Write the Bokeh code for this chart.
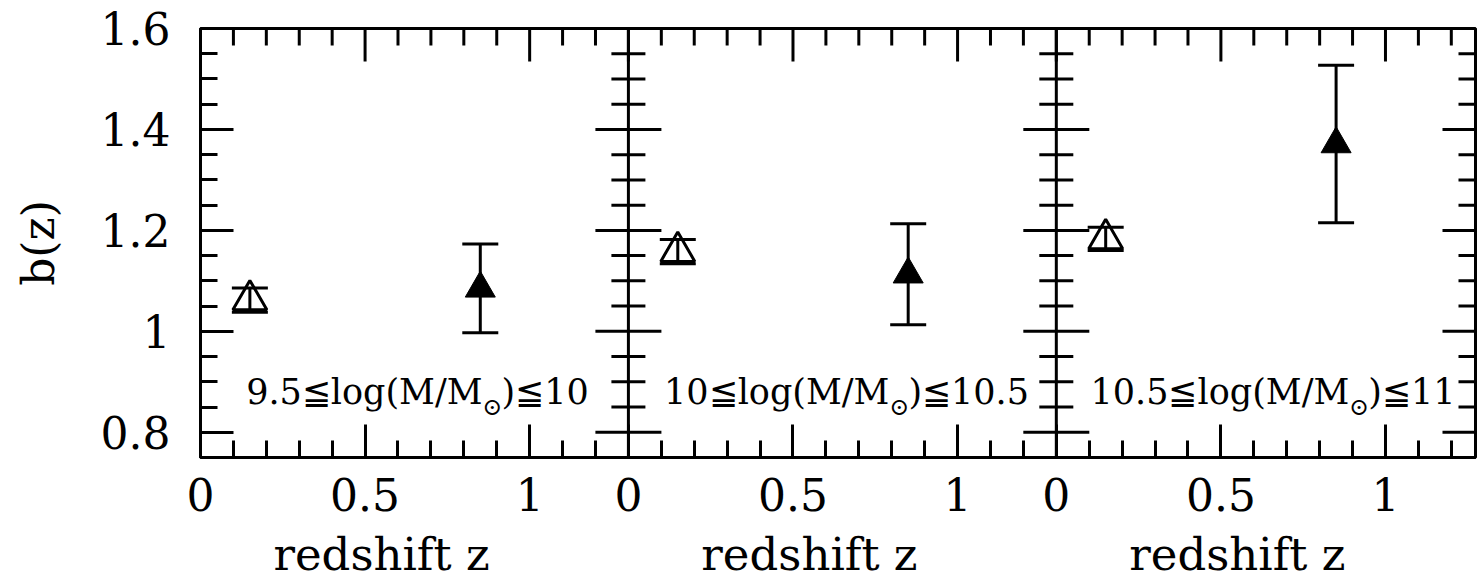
import math
from bokeh.plotting import figure
from bokeh.models import (ColumnDataSource, FixedTicker, LinearAxis, Whisker,
                          TeeHead, Label, Span, Range1d)
from bokeh.embed import file_html
from bokeh.resources import INLINE

# ---------------- data ----------------
mass_bins_left = ["9.5≦log(M/M", "10≦log(M/M", "10.5≦log(M/M"]
mass_bins_right = [")≦10", ")≦10.5", ")≦11"]
sun_symbol = "⊙"

open_z = [0.15, 0.15, 0.15]
open_b = [1.062, 1.158, 1.183]
open_err = [0.024, 0.024, 0.023]

filled_z = [0.85, 0.85, 0.85]
filled_b = [1.085, 1.113, 1.371]
filled_err = [0.088, 0.100, 0.156]

x_major_ticks = [0.0, 0.5, 1.0]
x_major_labels = ["0", "0.5", "1"]
x_minor_ticks = [0.1, 0.2, 0.3, 0.4, 0.6, 0.7, 0.8, 0.9, 1.1, 1.2]
y_major_ticks = [0.8, 1.0, 1.2, 1.4, 1.6]
y_major_labels = ["0.8", "1", "1.2", "1.4", "1.6"]
y_minor_ticks = [0.85, 0.9, 0.95, 1.05, 1.1, 1.15, 1.25, 1.3, 1.35, 1.45, 1.5, 1.55]
x_title = "redshift z"
y_title = "b(z)"

# ---------------- layout constants ----------------
PANEL_SPAN = 1.3          # x-extent of one panel (0 .. 1.3)
offsets = [0.0, PANEL_SPAN, 2 * PANEL_SPAN]
X_END = 2 * PANEL_SPAN + 1.2735
Y0, Y1 = 0.75, 1.6
TITLE_X = 0.55            # where each panel's x title is centred
FONT = "DejaVu Serif"
LW = 3
MAJ, MIN = 66, 34         # dash lengths (half lies inside the frame)

p = figure(frame_width=1275, frame_height=429,
           x_range=Range1d(0, X_END), y_range=Range1d(Y0, Y1),
           x_axis_type=None, y_axis_type=None,
           min_border_left=200, min_border_right=3,
           min_border_top=28, min_border_bottom=125,
           toolbar_location=None, output_backend="svg")
p.outline_line_color = "black"
p.outline_line_width = LW
p.background_fill_color = "white"
p.border_fill_color = "white"

def r(v):
    return round(v, 6)

bx_major, bx_labels, bx_minor = [], {}, []
for off in offsets:
    for t, lab in zip(x_major_ticks, x_major_labels):
        if r(t + off) <= X_END:
            bx_major.append(r(t + off))
            bx_labels[r(t + off)] = lab
    for t in x_minor_ticks:
        if r(t + off) < X_END:
            bx_minor.append(r(t + off))

def style_axis(ax):
    ax.axis_line_width = LW
    ax.axis_line_color = "black"
    ax.major_tick_line_width = LW
    ax.minor_tick_line_width = LW
    ax.major_tick_line_color = "black"
    ax.minor_tick_line_color = "black"
    ax.major_tick_in = 33
    ax.major_tick_out = 0
    ax.minor_tick_in = 17
    ax.minor_tick_out = 0
    ax.major_label_text_font = FONT
    ax.major_label_text_font_size = "44px"
    ax.major_label_text_color = "black"

# bottom axis with the numbers
xb = LinearAxis(ticker=FixedTicker(ticks=bx_major, minor_ticks=bx_minor),
                major_label_overrides=bx_labels)
style_axis(xb)
xb.major_label_standoff = 20
p.add_layout(xb, "below")

# second bottom axis carrying the three panel titles
t_pos = [r(off + TITLE_X) for off in offsets]
xt = LinearAxis(ticker=FixedTicker(ticks=t_pos, minor_ticks=[]),
                major_label_overrides={t: x_title for t in t_pos})
xt.axis_line_color = None
xt.major_tick_line_color = None
xt.minor_tick_line_color = None
xt.major_tick_in = 0
xt.major_tick_out = 0
xt.minor_tick_in = 0
xt.minor_tick_out = 0
xt.major_label_standoff = 14
xt.major_label_text_line_height = 1.0
xt.major_label_text_font = FONT
xt.major_label_text_font_size = "45px"
xt.major_label_text_color = "black"
p.add_layout(xt, "below")

# left axis
ytick_map = {t: l for t, l in zip(y_major_ticks, y_major_labels)}
yl = LinearAxis(ticker=FixedTicker(ticks=y_major_ticks, minor_ticks=y_minor_ticks),
                major_label_overrides=ytick_map, axis_label=y_title)
style_axis(yl)
yl.major_label_standoff = 30
yl.axis_label_text_font = FONT
yl.axis_label_text_font_size = "44px"
yl.axis_label_text_font_style = "normal"
yl.axis_label_text_color = "black"
yl.axis_label_standoff = 34
p.add_layout(yl, "left")

# top-edge ticks (vertical dashes centred on the top frame line, clipped to frame)
p.scatter(x=bx_major, y=[Y1] * len(bx_major), marker="dash", angle=math.pi / 2,
          size=MAJ, line_color="black", line_width=LW)
p.scatter(x=bx_minor, y=[Y1] * len(bx_minor), marker="dash", angle=math.pi / 2,
          size=MIN, line_color="black", line_width=LW)

# right edge and internal panel boundaries: horizontal dashes
for xe in offsets[1:] + [X_END]:
    p.scatter(x=[xe] * len(y_major_ticks), y=y_major_ticks, marker="dash",
              size=MAJ, line_color="black", line_width=LW)
    p.scatter(x=[xe] * len(y_minor_ticks), y=y_minor_ticks, marker="dash",
              size=MIN, line_color="black", line_width=LW)
for off in offsets[1:]:
    p.add_layout(Span(location=off, dimension="height", line_color="black", line_width=LW))

# data
ox = [z + off for z, off in zip(open_z, offsets)]
fx = [z + off for z, off in zip(filled_z, offsets)]
osrc = ColumnDataSource(dict(x=ox, y=open_b,
                             lo=[b - e for b, e in zip(open_b, open_err)],
                             hi=[b + e for b, e in zip(open_b, open_err)]))
fsrc = ColumnDataSource(dict(x=fx, y=filled_b,
                             lo=[b - e for b, e in zip(filled_b, filled_err)],
                             hi=[b + e for b, e in zip(filled_b, filled_err)]))

for src in (osrc, fsrc):
    p.add_layout(Whisker(source=src, base="x", upper="hi", lower="lo",
                         dimension="height", line_color="black", line_width=LW,
                         upper_head=TeeHead(size=36, line_width=LW, line_color="black"),
                         lower_head=TeeHead(size=36, line_width=LW, line_color="black")))

p.scatter(x="x", y="y", source=osrc, marker="triangle", size=34,
          fill_color=None, line_color="black", line_width=LW)
p.scatter(x="x", y="y", source=fsrc, marker="triangle", size=30,
          fill_color="black", line_color="black", line_width=1)

# mass-bin annotations
sun_anchor = [0.857, 0.793, 0.89]
ANN_Y = 0.879
for i, off in enumerate(offsets):
    ax_ = off + sun_anchor[i]
    p.add_layout(Label(x=ax_, y=ANN_Y, text=mass_bins_left[i], text_align="right",
                       text_baseline="middle", text_font=FONT,
                       text_font_size="35px", text_color="black"))
    p.add_layout(Label(x=ax_, y=ANN_Y, x_offset=0, y_offset=-15, text=sun_symbol,
                       text_align="left", text_baseline="middle", text_font=FONT,
                       text_font_size="24px", text_color="black"))
    p.add_layout(Label(x=ax_, y=ANN_Y, x_offset=19, text=mass_bins_right[i],
                       text_align="left", text_baseline="middle", text_font=FONT,
                       text_font_size="35px", text_color="black"))

open("out.html", "w").write(file_html(p, INLINE))
